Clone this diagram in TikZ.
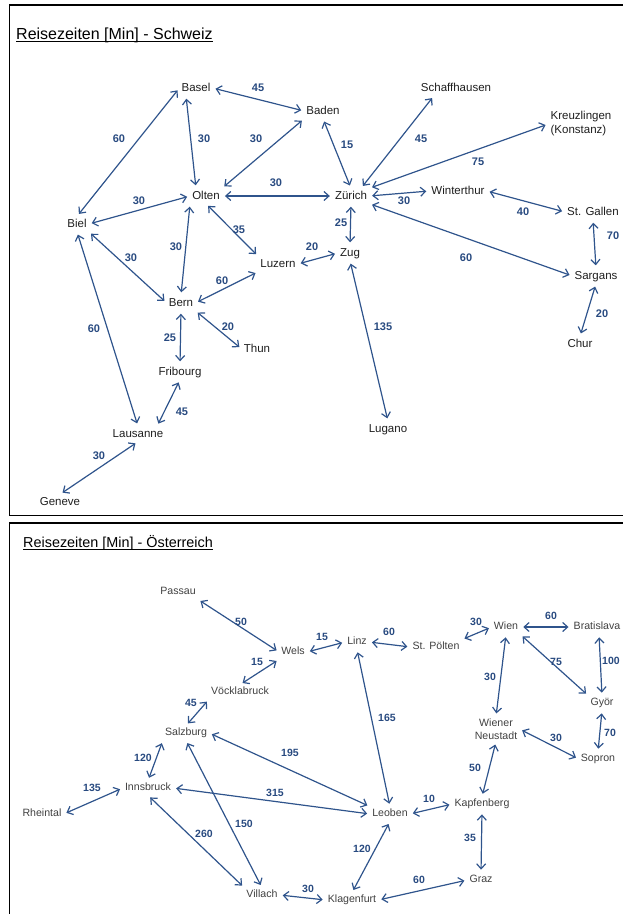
\documentclass[tikz,border=0pt]{standalone}
\usepackage{fontspec}
\setmainfont{Liberation Sans}
\usetikzlibrary{arrows.meta}

\definecolor{linkblue}{RGB}{47,84,140}
\definecolor{numblue}{RGB}{40,74,128}
\definecolor{citytext}{RGB}{30,30,30}
\definecolor{citygrey}{RGB}{64,64,64}

\tikzset{
  city/.style={font=\fontsize{11.5}{14}\selectfont, text=citytext, inner sep=2pt},
  town/.style={city, text height=8.5pt, text depth=2.5pt},
  citysmall/.style={font=\fontsize{10.6}{13}\selectfont, text=citygrey, inner sep=2pt},
  townsmall/.style={citysmall, text height=8pt, text depth=2.3pt},
  dist/.style={font=\bfseries\fontsize{11}{13}\selectfont, text=numblue, inner sep=0pt},
  distsmall/.style={dist, font=\bfseries\fontsize{10.5}{12}\selectfont},
  link/.style={{Straight Barb[length=5pt,width=9pt]}-{Straight Barb[length=5pt,width=9pt]},
    draw=linkblue, line width=1.2pt, shorten <=3pt, shorten >=3pt},
  panel/.style={draw=black, line width=1.6pt},
  titel/.style={anchor=base west, inner sep=0pt, text=black},
}

\begin{document}
\begin{tikzpicture}[x=1pt,y=-1pt]
  \useasboundingbox (0,0) rectangle (622,914);
  \draw[panel] (9.5,5) rectangle (660,515.5);
  \draw[panel] (9.5,523) rectangle (660,960);

  % Schweiz
  \node[titel, font=\fontsize{16}{18}\selectfont] (titelch) at (16,39) {Reisezeiten [Min] - Schweiz};
  \draw[line width=0.9pt] ([yshift=-2.2pt]titelch.base west) -- ([yshift=-2.2pt]titelch.base east);
  \foreach \nm/\px/\py/\txt in {basel/196/88/Basel, baden/323/111/Baden, schaff/456/88/Schaffhausen,
      zuerich/351/196/Zürich, winti/458/191/Winterthur, gallen/593/212/St. Gallen,
      sargans/596/276/Sargans, chur/580/344/Chur, zug/350/253/Zug, lugano/388/429/Lugano,
      olten/206/196/Olten, biel/77/224/Biel, luzern/278/264/Luzern, bern/181/303/Bern,
      thun/257/349/Thun, fribourg/180/372/Fribourg, lausanne/138/434/Lausanne, geneve/60/502/Geneve}
    \node[town] (\nm) at (\px,\py) {\txt};
  \node[city, align=left] (kreuz) at (581,124) {Kreuzlingen\\(Konstanz)};

  \draw[link] (basel.east) -- (baden.west) node[dist] at (258,88) {45};
  \draw[link] ([xshift=-10pt]basel.south) -- ([xshift=-10pt]olten.north) node[dist] at (204,139) {30};
  \draw[link] (basel.west) -- (biel.north) node[dist] at (119,139) {60};
  \draw[link] (baden.south west) -- (olten.north east) node[dist] at (256,139) {30};
  \draw[link] (baden.south) -- (zuerich.north) node[dist] at (347,145) {15};
  \draw[link] (olten.east) -- (zuerich.west) node[dist] at (276,183) {30};
  \draw[link] ([xshift=-22pt]schaff.south) -- ([xshift=10pt]zuerich.north) node[dist] at (421,139) {45};
  \draw[link] (kreuz.west) -- (zuerich.north east) node[dist] at (478,162) {75};
  \draw[link] (zuerich.east) -- (winti.west) node[dist] at (404,201) {30};
  \draw[link] (winti.east) -- (gallen.west) node[dist] at (523,212) {40};
  \draw[link] (gallen.south) -- (sargans.north) node[dist] at (613,236) {70};
  \draw[link] (zuerich.south east) -- (sargans.west) node[dist] at (466,258) {60};
  \draw[link] (sargans.south) -- (chur.north) node[dist] at (602,314) {20};
  \draw[link] (zuerich.south) -- (zug.north) node[dist] at (341,223) {25};
  \draw[link] (luzern.east) -- (zug.west) node[dist] at (312,247) {20};
  \draw[link] (zug.south) -- (lugano.north) node[dist] at (383,327) {135};
  \draw[link] (olten.west) -- (biel.east) node[dist] at (139,201) {30};
  \draw[link] (olten.south) -- (luzern.north west) node[dist] at (239,230) {35};
  \draw[link] (olten.south west) -- (bern.north) node[dist] at (176,247) {30};
  \draw[link] (biel.south east) -- (bern.west) node[dist] at (131,258) {30};
  \draw[link] (biel.south) -- (lausanne.north) node[dist] at (94,329) {60};
  \draw[link] (luzern.south west) -- (bern.east) node[dist] at (222,281) {60};
  \draw[link] (bern.south east) -- (thun.west) node[dist] at (228,327) {20};
  \draw[link] (bern.south) -- (fribourg.north) node[dist] at (170,338) {25};
  \draw[link] (fribourg.south) -- ([xshift=19pt]lausanne.north) node[dist] at (182,412) {45};
  \draw[link] (lausanne.south) -- (geneve.north) node[dist] at (99,456) {30};

  % Oesterreich
  \node[titel, font=\fontsize{14.4}{17}\selectfont] (titelat) at (23,547) {Reisezeiten [Min] - Österreich};
  \draw[line width=0.8pt] ([yshift=-2pt]titelat.base west) -- ([yshift=-2pt]titelat.base east);
  \foreach \nm/\px/\py/\txt in {passau/178/592/Passau, wels/293/652/Wels, voeckla/240/692/Vöcklabruck,
      linz/357/642/Linz, poelten/436/647/St. Pölten, wien/506/627/Wien, brati/597/627/Bratislava,
      gyoer/602/703/Györ, sopron/598/759/Sopron, kapfen/482/804/Kapfenberg, graz/481/880/Graz,
      leoben/390/814/Leoben, klagen/352/900/Klagenfurt, villach/262/895/Villach,
      salzburg/186/733/Salzburg, innsbruck/148/788/Innsbruck, rheintal/42/814/Rheintal}
    \node[townsmall] (\nm) at (\px,\py) {\txt};
  \node[citysmall, align=center] (neustadt) at (496,729) {Wiener\\Neustadt};

  \draw[link] (passau.south east) -- (wels.west) node[distsmall] at (241,622) {50};
  \draw[link] (wels.east) -- (linz.west) node[distsmall] at (322,637) {15};
  \draw[link] (linz.east) -- (poelten.west) node[distsmall] at (389,632) {60};
  \draw[link] (poelten.north east) -- (wien.west) node[distsmall] at (476,622) {30};
  \draw[link] (wien.east) -- (brati.west) node[distsmall] at (551,616) {60};
  \draw[link] (wien.south) -- (neustadt.north) node[distsmall] at (490,677) {30};
  \draw[link] (wien.south east) -- (gyoer.north west) node[distsmall] at (556,662) {75};
  \draw[link] ([xshift=2pt]brati.south) -- (gyoer.north) node[distsmall] at (611,661) {100};
  \draw[link] (gyoer.south) -- (sopron.north) node[distsmall] at (610,733) {70};
  \draw[link] (neustadt.east) -- (sopron.west) node[distsmall] at (556,738) {30};
  \draw[link] (neustadt.south) -- (kapfen.north) node[distsmall] at (475,768) {50};
  \draw[link] (kapfen.south) -- (graz.north) node[distsmall] at (470,838) {35};
  \draw[link] (leoben.east) -- (kapfen.west) node[distsmall] at (429,799) {10};
  \draw[link] (linz.south) -- (leoben.north) node[distsmall] at (387,718) {165};
  \draw[link] (salzburg.east) -- (leoben.north west) node[distsmall] at (290,753) {195};
  \draw[link] (innsbruck.east) -- (leoben.west) node[distsmall] at (275,793) {315};
  \draw[link] (salzburg.south) -- (villach.north) node[distsmall] at (244,824) {150};
  \draw[link] (innsbruck.south) -- (villach.north west) node[distsmall] at (204,834) {260};
  \draw[link] (innsbruck.north) -- (salzburg.south west) node[distsmall] at (143,758) {120};
  \draw[link] (voeckla.south west) -- (salzburg.north) node[distsmall] at (191,703) {45};
  \draw[link] (wels.south west) -- (voeckla.north) node[distsmall] at (257,662) {15};
  \draw[link] (rheintal.east) -- (innsbruck.west) node[distsmall] at (92,788) {135};
  \draw[link] (leoben.south) -- (klagen.north) node[distsmall] at (362,849) {120};
  \draw[link] (villach.east) -- (klagen.west) node[distsmall] at (308,889) {30};
  \draw[link] (klagen.east) -- (graz.west) node[distsmall] at (419,880) {60};
\end{tikzpicture}
\end{document}
